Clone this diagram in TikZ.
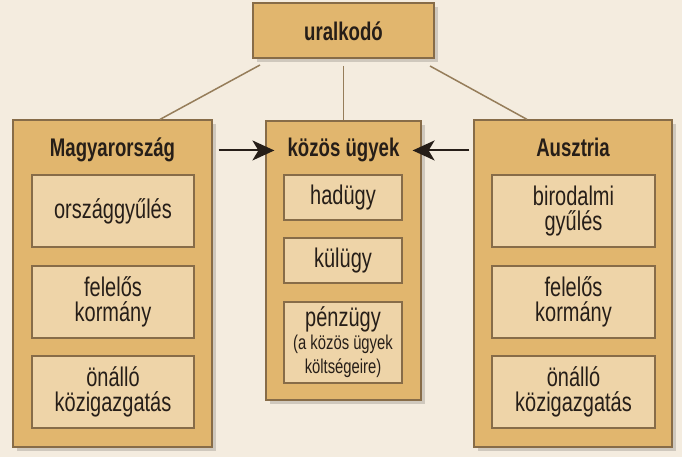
\documentclass[tikz,border=0pt]{standalone}
\usepackage{fontspec}
\setmainfont{Liberation Sans}[FakeStretch=0.74]
\newfontfamily\cimfont{Liberation Sans}[FakeStretch=0.73]
\usetikzlibrary{arrows.meta,shadows}

\definecolor{hatter}{RGB}{244,236,223}
\definecolor{sotet}{RGB}{225,182,110}
\definecolor{vilagos}{RGB}{238,212,168}
\definecolor{szegely}{RGB}{135,108,72}
\definecolor{vonalszin}{RGB}{150,125,90}
\definecolor{betu}{RGB}{38,30,24}
\newcommand{\kicsi}{\fontsize{20}{18}\selectfont}

\begin{document}
\begin{tikzpicture}[x=1pt,y=-1pt,
    keret/.style={draw=szegely,line width=1.2pt,fill=sotet,inner sep=0pt,
      drop shadow={shadow xshift=4pt,shadow yshift=-4pt,fill=black,opacity=.15}},
    doboz/.style={draw=szegely,line width=1.2pt,fill=vilagos,inner sep=0pt,
      align=center,text=betu,font=\fontsize{27}{24.5}\selectfont},
    cim/.style={anchor=base,text=betu,font=\cimfont\bfseries\fontsize{25.5}{25.5}\selectfont},
    vonal/.style={draw=vonalszin,line width=1.5pt},
    nyil/.style={draw=betu,line width=2pt,-{Stealth[length=22pt,width=20pt,inset=6pt]}}]

    % Hatter es a kep kerete.
    \fill[hatter] (0,0) rectangle (682,457);
    \useasboundingbox (0,0) rectangle (682,457);

    % Az uralkodo dobozai.
    \node[keret,minimum width=181pt,minimum height=55pt] (uralkodo) at (343.5,30.5) {};
    \node[cim] (uralkodoT) at (343.5,41) {uralkodó};

    % A harom nagy doboz.
    \node[keret,minimum width=199pt,minimum height=327pt] (mo) at (112.5,283.5) {};
    \node[keret,minimum width=155pt,minimum height=279pt] (kozos) at (343.5,260.5) {};
    \node[keret,minimum width=198pt,minimum height=327pt] (at) at (573,283.5) {};

    % A cimek.
    \node[cim] (moT) at (112.5,157) {Magyarország};
    \node[cim] (kozosT) at (343.5,157) {közös ügyek};
    \node[cim] (atT) at (573,157) {Ausztria};

    % Magyarorszag belso dobozai.
    \node[doboz,minimum width=162pt,minimum height=72pt] (mo1) at (113,211) {országgyűlés};
    \node[doboz,minimum width=162pt,minimum height=72pt] (mo2) at (113,302) {felelős\\kormány};
    \node[doboz,minimum width=162pt,minimum height=72pt] (mo3) at (113,392) {önálló\\közigazgatás};

    % A kozos ugyek belso dobozai.
    \node[doboz,minimum width=118pt,minimum height=45pt] (k1) at (343,197.5) {hadügy};
    \node[doboz,minimum width=118pt,minimum height=45pt] (k2) at (343,260.5) {külügy};
    \node[doboz,minimum width=118pt,minimum height=81pt] (k3) at (343,342.5)
      {pénzügy\\[-2pt]\kicsi (a közös ügyek\\\kicsi költségeire)};

    % Ausztria belso dobozai.
    \node[doboz,minimum width=163pt,minimum height=72pt] (at1) at (573.5,211) {birodalmi\\gyűlés};
    \node[doboz,minimum width=163pt,minimum height=72pt] (at2) at (573.5,302) {felelős\\kormány};
    \node[doboz,minimum width=163pt,minimum height=72pt] (at3) at (573.5,392) {önálló\\közigazgatás};

    % Vonalak az uralkodotol.
    \coordinate (uB) at (260,65);
    \coordinate (uK) at (343.5,66);
    \coordinate (uJ) at (430,66);
    \draw[vonal] (uB) -- (mo.north -| 160,0);
    \draw[vonal] (uK) -- (kozos.north);
    \draw[vonal] (uJ) -- (at.north -| 527,0);

    % Nyilak a kozos ugyek fele.
    \draw[nyil,shorten <=6pt,shorten >=-9pt] (mo.east |- kozosT.center) -- (kozos.west |- kozosT.center);
    \draw[nyil,shorten <=4pt,shorten >=-9pt] (at.west |- kozosT.center) -- (kozos.east |- kozosT.center);
\end{tikzpicture}
\end{document}
